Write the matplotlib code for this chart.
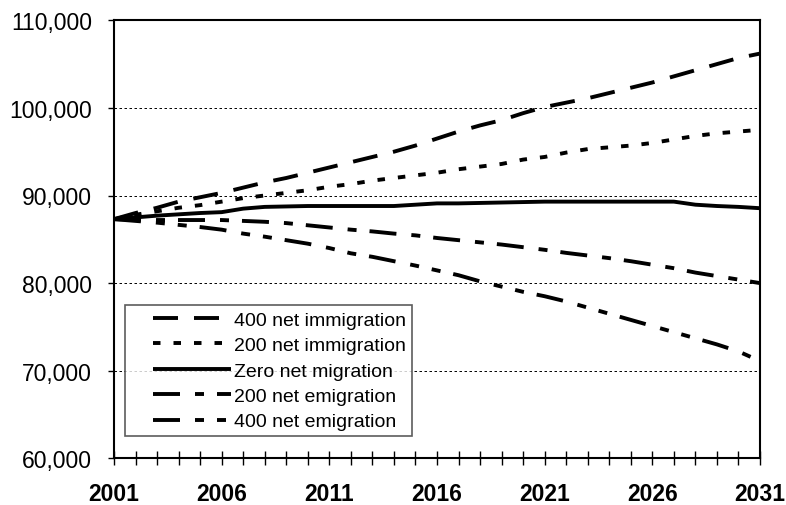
import numpy as np
import matplotlib
matplotlib.use("Agg")
import matplotlib.pyplot as plt
from matplotlib.lines import Line2D
from matplotlib.legend_handler import HandlerLine2D
from matplotlib.ticker import FuncFormatter

plt.rcParams['font.family'] = ['Liberation Sans', 'DejaVu Sans']
plt.rcParams['lines.scale_dashes'] = False

# population projections, 2001-2031
years = np.arange(2001, 2032)
imm400 = [87300, 88000, 88600, 89300, 89800, 90300, 90900, 91500, 92000, 92600,
          93200, 93800, 94400, 95000, 95700, 96500, 97300, 98000, 98600, 99400,
          100100, 100600, 101100, 101700, 102300, 102900, 103600, 104300, 105000, 105700,
          106200]
imm200 = [87300, 87800, 88200, 88600, 88900, 89300, 89700, 90000, 90300, 90600,
          91000, 91300, 91700, 92000, 92300, 92600, 93000, 93300, 93600, 94100,
          94400, 94900, 95300, 95500, 95700, 96000, 96400, 96800, 97100, 97300,
          97500]
zero = [87300, 87500, 87700, 87850, 88000, 88100, 88500, 88700, 88750, 88800,
        88800, 88800, 88800, 88800, 88950, 89100, 89100, 89150, 89200, 89250,
        89300, 89300, 89300, 89300, 89300, 89300, 89300, 88950, 88800, 88700,
        88550]
emig200 = [87300, 87250, 87200, 87200, 87200, 87200, 87100, 87000, 86850, 86600,
           86350, 86100, 85900, 85650, 85450, 85150, 84900, 84650, 84400, 84100,
           83800, 83450, 83150, 82850, 82500, 82100, 81700, 81200, 80800, 80400,
           80000]
emig400 = [87300, 87100, 86900, 86650, 86400, 86100, 85650, 85300, 84900, 84500,
           84000, 83400, 83000, 82500, 82000, 81450, 80900, 80200, 79600, 79000,
           78500, 77900, 77200, 76500, 75800, 75100, 74400, 73700, 73000, 72200,
           71100]
labels = ['400 net immigration', '200 net immigration', 'Zero net migration',
          '200 net emigration', '400 net emigration']

px = 0.72  # points per pixel at 100 dpi
styles = [(0, (25 * px, 16 * px)),
          (0, (7.5 * px, 13 * px)),
          '-',
          (0, (27 * px, 15 * px, 9 * px, 13 * px)),
          (0, (27 * px, 15 * px, 9 * px, 13 * px, 9 * px, 13 * px))]

fig = plt.figure(figsize=(7.86, 5.06), dpi=100)
ax = fig.add_axes([114 / 786, 1 - 459.3 / 506, 646 / 786, 438 / 506])

for vals, ls, lab in zip([imm400, imm200, zero, emig200, emig400], styles, labels):
    ax.plot(years, vals, color='black', linewidth=2.8, linestyle=ls, label=lab,
            solid_capstyle='butt', dash_capstyle='butt')

ax.set_xlim(2001, 2031)
ax.set_ylim(60000, 110000)
ax.set_yticks(np.arange(60000, 110001, 10000))
ax.yaxis.set_major_formatter(FuncFormatter(lambda v, p: f'{int(v):,}'))
ax.set_xticks(years)
ax.set_xticklabels([str(y) if (y - 2001) % 5 == 0 else '' for y in years])

ax.tick_params(axis='y', direction='out', length=4.3, width=1, pad=11.5, labelsize=16.5)
ax.tick_params(axis='x', direction='inout', length=10, width=1, pad=12, labelsize=16.5)
for t in ax.get_xticklabels():
    t.set_fontweight('bold')

for v in [70000, 80000, 90000, 100000]:
    ax.axhline(v, color='black', linewidth=0.7, linestyle=(0, (2.5 * px, 2.5 * px)), zorder=0)

for s in ax.spines.values():
    s.set_linewidth(1.5)

leg = ax.legend(loc='lower left', bbox_to_anchor=(11 / 646, 22 / 438),
                fontsize=14, frameon=True, fancybox=False,
                handlelength=100 / 19.4, handletextpad=0.15, borderpad=0.3,
                labelspacing=0.4, borderaxespad=0,
                handler_map={Line2D: HandlerLine2D(xpad=22 / 19.4)})
leg.get_frame().set_edgecolor('#333333')
leg.get_frame().set_linewidth(1.2)

fig.savefig('out.png', dpi=100)
